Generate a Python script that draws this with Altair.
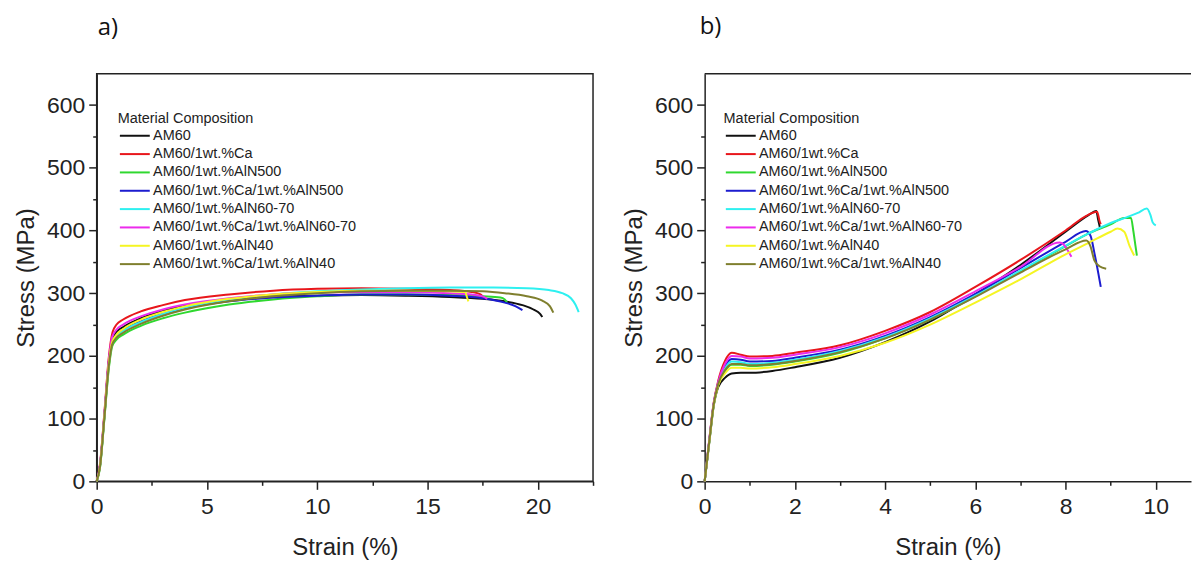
import altair as alt
import pandas as pd

series_names = [
    "AM60",
    "AM60/1wt.%Ca",
    "AM60/1wt.%AlN500",
    "AM60/1wt.%Ca/1wt.%AlN500",
    "AM60/1wt.%AlN60-70",
    "AM60/1wt.%Ca/1wt.%AlN60-70",
    "AM60/1wt.%AlN40",
    "AM60/1wt.%Ca/1wt.%AlN40",
]
series_colors = ["#111111", "#e8161b", "#2fd82f", "#1c1ccf",
                 "#2ef0f0", "#ec2bec", "#f5f523", "#7f7f2e"]

# ---------- panel a) ----------
a_am60_strain = [0, 0.15, 0.35, 0.55, 0.7, 0.9, 1.2, 2, 3, 4, 6, 8, 10, 12, 14, 16, 17.5, 18.5, 19.3, 19.8, 20.1, 20.2]
a_am60_stress = [0, 25, 105, 190, 225, 238, 246, 260, 272, 280, 289, 294, 296, 297, 296, 294, 291, 287, 281, 274, 267, 262]
a_ca_strain = [0, 0.15, 0.35, 0.55, 0.72, 0.9, 1.2, 2, 3, 4, 6, 8, 10, 12, 14, 16, 17.0, 17.4, 17.55]
a_ca_stress = [0, 28, 110, 198, 238, 250, 258, 271, 281, 289, 298, 304, 307, 308, 307, 305, 302, 298, 293]
a_aln500_strain = [0, 0.15, 0.35, 0.55, 0.7, 0.9, 1.2, 2, 3, 4, 6, 8, 10, 12, 14, 16, 17.5, 18.3, 18.5, 18.6]
a_aln500_stress = [0, 22, 100, 180, 215, 226, 234, 248, 260, 269, 282, 290, 295, 298, 298, 297, 295, 293, 290, 285]
a_ca_aln500_strain = [0, 0.15, 0.35, 0.55, 0.7, 0.9, 1.2, 2, 3, 4, 6, 8, 10, 12, 14, 16, 17.5, 18.5, 19.0, 19.3]
a_ca_aln500_stress = [0, 25, 105, 190, 222, 233, 241, 255, 267, 276, 287, 293, 296, 298, 298, 296, 292, 285, 279, 273]
a_aln6070_strain = [0, 0.15, 0.35, 0.55, 0.7, 0.9, 1.2, 2, 3, 4, 6, 8, 10, 12, 14, 16, 18, 19.5, 20.5, 21.1, 21.5, 21.7, 21.85]
a_aln6070_stress = [0, 24, 104, 188, 220, 231, 240, 254, 267, 277, 290, 298, 303, 306, 308, 309, 309, 308, 305, 300, 292, 282, 270]
a_ca_aln6070_strain = [0, 0.15, 0.35, 0.55, 0.7, 0.9, 1.2, 2, 3, 4, 6, 8, 10, 12, 14, 16, 17.0, 17.5, 17.7]
a_ca_aln6070_stress = [0, 26, 108, 194, 230, 242, 250, 263, 274, 282, 292, 298, 301, 302, 302, 300, 298, 295, 291]
a_aln40_strain = [0, 0.15, 0.35, 0.55, 0.7, 0.9, 1.2, 2, 3, 4, 6, 8, 10, 12, 14, 16, 16.7, 16.8, 16.85]
a_aln40_stress = [0, 24, 104, 188, 222, 234, 243, 258, 270, 279, 291, 298, 302, 304, 304, 303, 302, 292, 287]
a_ca_aln40_strain = [0, 0.15, 0.35, 0.55, 0.7, 0.9, 1.2, 2, 3, 4, 6, 8, 10, 12, 14, 16, 17.5, 18.5, 19.5, 20.2, 20.55, 20.7]
a_ca_aln40_stress = [0, 23, 102, 184, 218, 229, 237, 251, 264, 274, 287, 295, 300, 303, 304, 304, 303, 300, 295, 288, 279, 269]

# ---------- panel b) ----------
b_am60_strain = [0, 0.1, 0.2, 0.3, 0.45, 0.6, 0.8, 1.0, 1.5, 2, 3, 4, 5, 6, 7, 8, 8.5, 8.68, 8.72, 8.76]
b_am60_stress = [0, 60, 120, 150, 165, 172, 173, 173, 176, 182, 197, 222, 255, 298, 345, 398, 424, 431, 418, 405]
b_ca_strain = [0, 0.1, 0.2, 0.3, 0.45, 0.6, 0.8, 1.0, 1.5, 2, 3, 4, 5, 6, 7, 8, 8.5, 8.7, 8.75, 8.78]
b_ca_stress = [0, 65, 125, 160, 192, 205, 202, 199, 200, 205, 217, 240, 270, 310, 353, 400, 425, 430, 416, 410]
b_aln500_strain = [0, 0.1, 0.2, 0.3, 0.45, 0.6, 0.8, 1.0, 1.5, 2, 3, 4, 5, 6, 7, 8, 8.5, 9.0, 9.3, 9.45, 9.5, 9.55, 9.58]
b_aln500_stress = [0, 62, 122, 155, 176, 186, 186, 184, 186, 191, 205, 228, 258, 295, 335, 375, 395, 410, 420, 420, 400, 375, 360]
b_ca_aln500_strain = [0, 0.1, 0.2, 0.3, 0.45, 0.6, 0.8, 1.0, 1.5, 2, 3, 4, 5, 6, 7, 8, 8.45, 8.55, 8.65, 8.73, 8.78]
b_ca_aln500_stress = [0, 63, 123, 157, 183, 195, 194, 191, 192, 197, 210, 232, 262, 299, 340, 382, 399, 392, 360, 330, 310]
b_aln6070_strain = [0, 0.1, 0.2, 0.3, 0.45, 0.6, 0.8, 1.0, 1.5, 2, 3, 4, 5, 6, 7, 8, 8.5, 9.0, 9.35, 9.6, 9.8, 9.88, 9.93, 10.0]
b_aln6070_stress = [0, 62, 122, 156, 180, 191, 190, 187, 189, 194, 208, 230, 260, 296, 336, 376, 395, 412, 421, 428, 435, 425, 413, 408]
b_ca_aln6070_strain = [0, 0.1, 0.2, 0.3, 0.45, 0.6, 0.8, 1.0, 1.5, 2, 3, 4, 5, 6, 7, 7.87, 7.95, 8.05, 8.13]
b_ca_aln6070_stress = [0, 64, 124, 158, 187, 200, 199, 196, 197, 202, 214, 236, 266, 303, 342, 381, 378, 368, 358]
b_aln40_strain = [0, 0.1, 0.2, 0.3, 0.45, 0.6, 0.8, 1.0, 1.5, 2, 3, 4, 5, 6, 7, 8, 8.5, 9.0, 9.15, 9.3, 9.42, 9.52]
b_aln40_stress = [0, 61, 121, 153, 172, 181, 181, 180, 182, 187, 200, 221, 250, 285, 322, 362, 380, 398, 403, 398, 375, 360]
b_ca_aln40_strain = [0, 0.1, 0.2, 0.3, 0.45, 0.6, 0.8, 1.0, 1.5, 2, 3, 4, 5, 6, 7, 8, 8.46, 8.55, 8.64, 8.75, 8.9]
b_ca_aln40_stress = [0, 62, 122, 155, 177, 187, 187, 185, 187, 192, 206, 228, 258, 294, 333, 370, 384, 375, 352, 343, 339]

a_x_ticks = [0, 2.5, 5, 7.5, 10, 12.5, 15, 17.5, 20, 22.5]
b_x_ticks = [0, 1, 2, 3, 4, 5, 6, 7, 8, 9, 10]
y_ticks = [0, 50, 100, 150, 200, 250, 300, 350, 400, 450, 500, 550, 600]

a_sets = [(a_am60_strain, a_am60_stress), (a_ca_strain, a_ca_stress),
          (a_aln500_strain, a_aln500_stress), (a_ca_aln500_strain, a_ca_aln500_stress),
          (a_aln6070_strain, a_aln6070_stress), (a_ca_aln6070_strain, a_ca_aln6070_stress),
          (a_aln40_strain, a_aln40_stress), (a_ca_aln40_strain, a_ca_aln40_stress)]
b_sets = [(b_am60_strain, b_am60_stress), (b_ca_strain, b_ca_stress),
          (b_aln500_strain, b_aln500_stress), (b_ca_aln500_strain, b_ca_aln500_stress),
          (b_aln6070_strain, b_aln6070_stress), (b_ca_aln6070_strain, b_ca_aln6070_stress),
          (b_aln40_strain, b_aln40_stress), (b_ca_aln40_strain, b_ca_aln40_stress)]


def to_df(sets):
    rows = []
    for name, (xs, ys) in zip(series_names, sets):
        for i, (x, y) in enumerate(zip(xs, ys)):
            rows.append({"series": name, "strain": x, "stress": y, "idx": i})
    return pd.DataFrame(rows)


FONT = "Liberation Sans"
INK = "#222222"


def axis(values, major_test, label_pad, title_pad):
    return alt.Axis(
        values=values,
        labelExpr=f"({major_test}) ? datum.label : ''",
        tickSize={"condition": {"test": major_test, "value": 8}, "value": 4},
        grid=False,
        domainColor=INK, domainWidth=1.5, tickColor=INK, tickWidth=1.5,
        labelFont=FONT, labelFontSize=23, labelColor=INK, labelPadding=label_pad,
        titleFont=FONT, titleFontSize=24, titleFontWeight="normal", titleColor=INK,
        titlePadding=title_pad, labelFlush=False, labelOverlap=False,
    )


def panel(df, xdom, xticks, xmajor, width, label, dx, legend_x, full_frame):
    lines = alt.Chart(df).mark_line(strokeWidth=2, interpolate="monotone").encode(
        x=alt.X("strain:Q", title="Strain (%)",
                scale=alt.Scale(domain=xdom, nice=False, zero=False),
                axis=axis(xticks, xmajor, 6, 17)),
        y=alt.Y("stress:Q", title="Stress (MPa)",
                scale=alt.Scale(domain=[0, 650], nice=False),
                axis=axis(y_ticks, "datum.value % 100 === 0", 4, 8)),
        color=alt.Color("series:N", sort=series_names,
                        scale=alt.Scale(domain=series_names, range=series_colors),
                        legend=alt.Legend(
                            orient="none", legendX=legend_x, legendY=38,
                            title="Material Composition", titleFont=FONT,
                            titleFontSize=14.5, titleFontWeight="normal", titleColor=INK,
                            titlePadding=2.5, titleLimit=0,
                            labelFont=FONT, labelFontSize=14.5, labelColor=INK,
                            labelLimit=0,
                            symbolType="M-1,0H5", symbolSize=100, symbolStrokeWidth=2,
                            labelOffset=21, rowPadding=3.4, padding=0,
                        )),
        order="idx:Q",
    )
    layers = [lines]
    if not full_frame:
        top = alt.Chart(pd.DataFrame({"k": [0]})).mark_rule(color=INK, strokeWidth=1.5).encode(
            x=alt.value(0), x2=alt.value(width), y=alt.value(0))
        layers.append(top)
    view = alt.ViewBackground(stroke=INK if full_frame else "transparent", strokeWidth=1.5)
    return alt.layer(*layers).properties(
        width=width, height=409, view=view,
        title=alt.TitleParams(text=label, anchor="start", frame="group", font="Open Sans",
                              fontSize=24, fontWeight="normal", color="#111111",
                              offset=34, dx=dx),
    )


chart_a = panel(to_df(a_sets), [0, 22.5], a_x_ticks, "datum.value % 5 === 0",
                498, "a)", 1, 21, True)
chart_b = panel(to_df(b_sets), [0, 10.78], b_x_ticks, "datum.value % 2 === 0",
                488, "b)", -5, 19, False)

chart = alt.hconcat(chart_a, chart_b, spacing=26).resolve_scale(
    color="independent").resolve_legend(color="independent").properties(
    padding={"left": 5, "top": 5, "right": 0, "bottom": 0},
    background="white",
)

chart.save("out.html", embed_options={"renderer": "svg", "actions": False})
